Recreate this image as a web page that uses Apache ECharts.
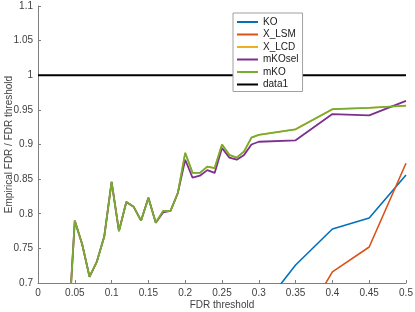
<!DOCTYPE html>
<html><head><meta charset="utf-8">
<script src="https://cdn.jsdelivr.net/npm/echarts@6/dist/echarts.min.js"></script>
<style>html,body{margin:0;padding:0;background:#fff}#c{width:415px;height:312px}</style>
</head><body><div id="c"></div>
<script>
const xFine = [0.04,0.05,0.06,0.07,0.08,0.09,0.10,0.11,0.12,0.13,0.14,0.15,0.16,0.17,0.18,0.19,0.20,0.21,0.22,0.23,0.24,0.25,0.26,0.27,0.28,0.29,0.30,0.35,0.40,0.45,0.50];
const mKO    = [0.61,0.790,0.756,0.709,0.731,0.767,0.846,0.775,0.817,0.810,0.790,0.823,0.787,0.804,0.804,0.830,0.888,0.859,0.859,0.868,0.866,0.900,0.885,0.881,0.890,0.910,0.914,0.922,0.951,0.953,0.956];
const mKOsel = [0.61,0.790,0.756,0.709,0.731,0.767,0.846,0.775,0.817,0.810,0.790,0.823,0.787,0.802,0.804,0.830,0.878,0.852,0.855,0.863,0.859,0.895,0.881,0.878,0.885,0.900,0.904,0.906,0.944,0.942,0.963];
const X_LCD  = mKO.slice();
const xCoarse = [0.30,0.35,0.40,0.45,0.50];
const KO     = [0.658,0.726,0.778,0.794,0.856];
const X_LSM  = [0.55,0.627,0.716,0.752,0.873];
const data1X = [0,0.5];
const data1  = [1,1];

const pair = (xs, ys) => xs.map((x,i)=>[x, ys[i]]);
const font = 'Liberation Sans, Arial, sans-serif';
const chart = echarts.init(document.getElementById('c'), null, {renderer:'canvas'});
const mk = (name, xs, ys, color, w) => ({
  name, type:'line', data: pair(xs, ys), symbol:'none', clip:true,
  lineStyle:{color, width:w}, itemStyle:{color}, animation:false
});
chart.setOption({
  animation:false,
  grid:{left:38, right:9, top:6, bottom:29, containLabel:false, outerBoundsMode:'none'},
  xAxis:{type:'value', min:0, max:0.5, interval:0.05,
    name:'FDR threshold', nameLocation:'middle', nameGap:17, nameMoveOverlap:false,
    nameTextStyle:{color:'#404040', fontSize:10, fontFamily:font},
    axisLine:{lineStyle:{color:'#7f7f7f', width:1}},
    axisTick:{inside:true, length:3, lineStyle:{color:'#7f7f7f'}},
    axisLabel:{color:'#404040', fontSize:10, fontFamily:font, margin:5},
    splitLine:{show:false}},
  yAxis:{type:'value', min:0.7, max:1.1, interval:0.05,
    name:'Empirical FDR / FDR threshold', nameLocation:'middle', nameGap:24, nameMoveOverlap:false,
    nameTextStyle:{color:'#404040', fontSize:10, fontFamily:font},
    axisLine:{show:true, lineStyle:{color:'#7f7f7f', width:1}},
    axisTick:{show:true, inside:true, length:3, lineStyle:{color:'#7f7f7f'}},
    axisLabel:{color:'#404040', fontSize:10, fontFamily:font, margin:5},
    splitLine:{show:false}},
  legend:{orient:'vertical', left:233, top:13, padding:[3,4,1,4],
    backgroundColor:'#fff', borderColor:'#a0a0a0', borderWidth:1, borderRadius:0,
    itemWidth:21, itemHeight:2, itemGap:0.5, icon:'rect',
    textStyle:{fontSize:10, fontFamily:font, color:'#202020', lineHeight:12},
    data:['KO','X_LSM','X_LCD','mKOsel','mKO','data1']},
  series:[
    mk('KO', xCoarse, KO, '#0072BD', 1.6),
    mk('X_LSM', xCoarse, X_LSM, '#D95319', 1.6),
    mk('X_LCD', xFine, X_LCD, '#EDB120', 1.6),
    mk('mKOsel', xFine, mKOsel, '#7E2F8E', 1.8),
    mk('mKO', xFine, mKO, '#77AC30', 1.8),
    mk('data1', data1X, data1, '#000000', 2)
  ]
});
</script></body></html>
